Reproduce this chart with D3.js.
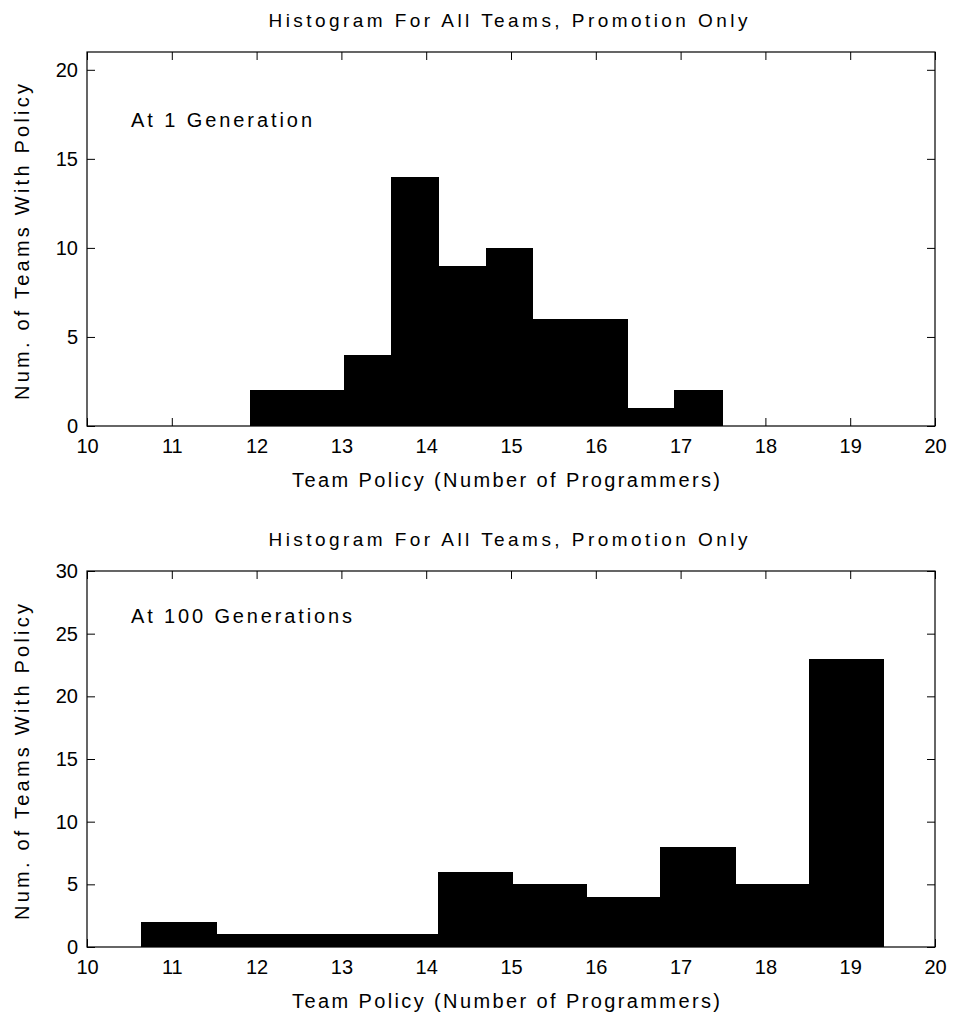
<!DOCTYPE html>
<html>
<head>
<meta charset="utf-8">
<script src="https://cdn.jsdelivr.net/npm/d3@7"></script>
<style>
  html, body { margin: 0; padding: 0; background: #fff; }
  svg { display: block; }
  text { font-family: "Liberation Sans", Arial, Helvetica, sans-serif; fill: #000; }
</style>
</head>
<body>
<svg id="chart" width="953" height="1020"></svg>
<script>
// ---- Data ----
const titleText = "Histogram For All Teams, Promotion Only";
const xLabelText = "Team Policy (Number of Programmers)";
const yLabelText = "Num. of Teams With Policy";

const xTicks = [10, 11, 12, 13, 14, 15, 16, 17, 18, 19, 20];

// Panel 1: At 1 Generation
const topNote = "At 1 Generation";
const topEdges = [11.92, 12.48, 13.03, 13.59, 14.14, 14.70, 15.25, 15.81, 16.37, 16.92, 17.49];
const topCounts = [2, 2, 4, 14, 9, 10, 6, 6, 1, 2];
const topYTicks = [0, 5, 10, 15, 20];
const topYMax = 21;

// Panel 2: At 100 Generations
const bottomNote = "At 100 Generations";
const bottomEdges = [10.64, 11.52, 12.39, 13.27, 14.14, 15.01, 15.89, 16.76, 17.64, 18.51, 19.39];
const bottomCounts = [2, 1, 1, 1, 6, 5, 4, 8, 5, 23];
const bottomYTicks = [0, 5, 10, 15, 20, 25, 30];
const bottomYMax = 30;

// ---- Drawing ----
const svg = d3.select("#chart");
const FS = 20;

function panel(cfg) {
  const x = d3.scaleLinear().domain([10, 20]).range([87, 935]);
  const y = d3.scaleLinear().domain([0, cfg.yMax]).range([cfg.bottom, cfg.top]);
  const g = svg.append("g");

  // title
  g.append("text")
    .attr("x", 508).attr("y", cfg.top - 25)
    .attr("text-anchor", "middle")
    .attr("font-size", 19)
    .attr("textLength", 479).attr("lengthAdjust", "spacing")
    .text(titleText);

  // bars
  const bins = cfg.counts.map((c, i) => ({x0: cfg.edges[i], x1: cfg.edges[i + 1], c}));
  g.append("g").attr("shape-rendering", "crispEdges")
    .selectAll("rect").data(bins).join("rect")
    .attr("x", d => Math.round(x(d.x0)))
    .attr("width", d => Math.round(x(d.x1)) - Math.round(x(d.x0)) + 1)
    .attr("y", d => y(d.c))
    .attr("height", d => y(0) - y(d.c))
    .attr("fill", "#000");

  // axes with inward ticks
  const ax = g.append("g").attr("transform", `translate(0,${cfg.bottom})`)
    .call(d3.axisBottom(x).tickValues(xTicks).tickFormat(d3.format("d"))
      .tickSizeInner(-8).tickSizeOuter(0).tickPadding(13));
  const ay = g.append("g").attr("transform", `translate(87,0)`)
    .call(d3.axisLeft(y).tickValues(cfg.yTicks).tickFormat(d3.format("d"))
      .tickSizeInner(-8).tickSizeOuter(0).tickPadding(9));
  const at = g.append("g").attr("transform", `translate(0,${cfg.top})`)
    .call(d3.axisTop(x).tickValues(xTicks).tickFormat("")
      .tickSizeInner(-8).tickSizeOuter(0));
  const ar = g.append("g").attr("transform", `translate(935,0)`)
    .call(d3.axisRight(y).tickValues(cfg.yTicks).tickFormat("")
      .tickSizeInner(-8).tickSizeOuter(0));
  [ax, ay, at, ar].forEach(a => {
    a.select(".domain").remove();
    a.selectAll(".tick line").attr("stroke", "#000").attr("stroke-width", 1);
    a.selectAll(".tick text").attr("font-size", FS)
      .attr("font-family", "Liberation Sans, Arial, sans-serif").attr("fill", "#000");
  });

  // frame
  g.append("rect")
    .attr("x", 87).attr("y", cfg.top)
    .attr("width", 935 - 87).attr("height", cfg.bottom - cfg.top)
    .attr("fill", "none").attr("stroke", "#000").attr("stroke-width", 1.2);

  // annotation
  g.append("text")
    .attr("x", 131).attr("y", cfg.noteY)
    .attr("font-size", FS)
    .attr("textLength", cfg.noteW).attr("lengthAdjust", "spacing")
    .text(cfg.note);

  // x label
  g.append("text")
    .attr("x", 506).attr("y", cfg.bottom + 61)
    .attr("text-anchor", "middle")
    .attr("font-size", FS)
    .attr("textLength", 428).attr("lengthAdjust", "spacing")
    .text(xLabelText);

  // y label
  const cy = (cfg.top + cfg.bottom) / 2 + 3;
  g.append("text")
    .attr("transform", `translate(29,${cy}) rotate(-90)`)
    .attr("text-anchor", "middle")
    .attr("font-size", FS)
    .attr("textLength", 316).attr("lengthAdjust", "spacing")
    .text(yLabelText);
}

panel({top: 52, bottom: 426, yMax: topYMax, yTicks: topYTicks,
       edges: topEdges, counts: topCounts, note: topNote, noteY: 127, noteW: 181});
panel({top: 571, bottom: 947, yMax: bottomYMax, yTicks: bottomYTicks,
       edges: bottomEdges, counts: bottomCounts, note: bottomNote, noteY: 623, noteW: 221});
</script>
</body>
</html>
